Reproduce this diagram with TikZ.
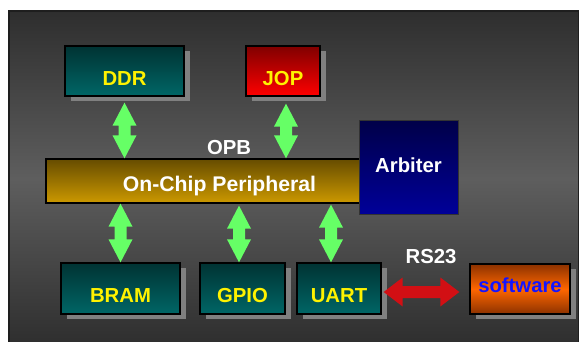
\documentclass[tikz,border=0pt]{standalone}
\usepackage{fontspec}
\setmainfont{Liberation Sans}
\usetikzlibrary{calc,shadows}
\definecolor{bgdark}{RGB}{46,46,46}
\definecolor{bgmid}{RGB}{94,94,94}
\definecolor{bgline}{RGB}{30,30,30}
\definecolor{tealtop}{RGB}{0,51,51}
\definecolor{tealbot}{RGB}{0,102,102}
\definecolor{redtop}{RGB}{128,0,0}
\definecolor{redbot}{RGB}{255,0,0}
\definecolor{goldtop}{RGB}{102,76,0}
\definecolor{goldbot}{RGB}{204,153,0}
\definecolor{bluetop}{RGB}{0,0,72}
\definecolor{bluebot}{RGB}{0,0,153}
\definecolor{orangeedge}{RGB}{140,50,0}
\definecolor{orangemid}{RGB}{255,102,0}
\definecolor{shadowgray}{RGB}{128,128,128}
\definecolor{arrowgreen}{RGB}{102,255,102}
\definecolor{arrowred}{RGB}{210,15,20}
\definecolor{swblue}{RGB}{20,20,255}
\begin{document}
\begin{tikzpicture}[x=1pt,y=-1pt,
  txt/.style={font=\fontsize{20.3}{24}\selectfont\bfseries, inner sep=0pt, text depth=0pt},
  box/.style={txt, draw=black, line width=1.3pt, text=yellow, text height=28.4pt,
    drop shadow={shadow xshift=5.5pt, shadow yshift=-5pt, fill=shadowgray, opacity=1}},
  tealbox/.style={box, top color=tealtop, bottom color=tealbot},
  % vertical double block arrow, start above end
  garrow/.style={fill=arrowgreen, to path={let \p1=(\tikztostart), \p2=(\tikztotarget) in
    (\x1,\y1) -- (\x1+12pt,\y1-23pt) -- (\x1+6pt,\y1-23pt) -- (\x1+6pt,\y2+23pt)
    -- (\x1+12pt,\y2+23pt) -- (\x2,\y2) -- (\x1-12pt,\y2+23pt) -- (\x1-6pt,\y2+23pt)
    -- (\x1-6pt,\y1-23pt) -- (\x1-12pt,\y1-23pt) -- cycle}},
  % horizontal double block arrow, start left of end
  rarrow/.style={fill=arrowred, to path={let \p1=(\tikztostart), \p2=(\tikztotarget) in
    (\x1,\y1) -- (\x1+19pt,\y1+14.5pt) -- (\x1+19pt,\y1+6pt) -- (\x2-19pt,\y1+6pt)
    -- (\x2-19pt,\y1+14.5pt) -- (\x2,\y2) -- (\x2-19pt,\y1-14.5pt) -- (\x2-19pt,\y1-6pt)
    -- (\x1+19pt,\y1-6pt) -- (\x1+19pt,\y1-14.5pt) -- cycle}},
  lbl/.style={txt, text=white, text height=14.4pt}
]
\useasboundingbox (0,0) rectangle (580,342);
\path[fill=white] (0,0) rectangle (580,342);
\draw[draw=bgline, line width=1.5pt, top color=bgdark, bottom color=bgdark, middle color=bgmid]
  (9,11) rectangle (578.5,346);

% boxes
\node[tealbox, minimum width=119pt, minimum height=50pt] (ddr) at (124.5,71) {DDR};
\node[box, top color=redtop, bottom color=redbot, minimum width=74pt, minimum height=50pt] (jop) at (283,71) {JOP};
\node[txt, font=\fontsize{21.2}{25}\selectfont\bfseries, draw=black, line width=1.3pt, text=white, text height=21pt,
  top color=goldtop, bottom color=goldbot, minimum width=347pt, minimum height=44pt] (opb) at (219.5,181) {On-Chip Peripheral};
\node[txt, draw=black!80, line width=1pt, text=white, text height=10.4pt,
  top color=bluetop, bottom color=bluebot, minimum width=99pt, minimum height=94pt] (arb) at (408.5,167) {Arbiter};
\node[tealbox, minimum width=119pt, minimum height=51pt] (bram) at (120.5,288.5) {BRAM};
\node[tealbox, minimum width=85pt, minimum height=51pt] (gpio) at (242.5,288.5) {GPIO};
\node[tealbox, minimum width=84pt, minimum height=51pt] (uart) at (339,288.5) {UART};
\node[box, text=swblue, text height=7.4pt, top color=orangeedge, bottom color=orangeedge, middle color=orangemid,
  minimum width=100pt, minimum height=50pt] (sw) at (520,289) {software};

% labels
\node[lbl] (opblbl) at (229,147) {OPB};
\node[lbl] (rslbl) at (431,256) {RS23};

% helper coordinates
\coordinate (ddrs) at ([yshift=-6pt]ddr.south);
\coordinate (jops) at ([xshift=3pt,yshift=-7pt]jop.south);
\coordinate (bramn) at (bram.north);
\coordinate (gpion) at ([xshift=-3.5pt]gpio.north);
\coordinate (uartn) at ([xshift=-8pt]uart.north);
\coordinate (uarte) at ([xshift=2pt,yshift=-3.5pt]uart.east);
\coordinate (swa) at ([xshift=-10pt]sw.west);

% connectors
\path[garrow] (ddrs) to (ddrs |- opb.north);
\path[garrow] (jops) to (jops |- opb.north);
\path[garrow] (bramn |- opb.south) to (bramn);
\path[garrow] ([yshift=-2pt]gpion |- opb.south) to (gpion);
\path[garrow] ([yshift=-1pt]uartn |- opb.south) to (uartn);
\path[rarrow] (uarte) to (uarte -| swa);
\end{tikzpicture}
\end{document}
